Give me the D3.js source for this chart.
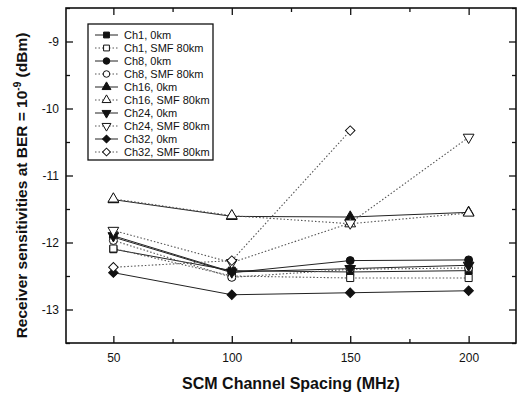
<!DOCTYPE html>
<html>
<head>
<meta charset="utf-8">
<script src="https://cdn.jsdelivr.net/npm/d3@7"></script>
<style>
  body { margin: 0; background: #fff; }
  text { font-family: Arial, "Liberation Sans", sans-serif; fill: #111; }
</style>
</head>
<body>
<div class="article"></div>
<script>
// chart values
var spacing = [50, 100, 150, 200];
var seriesNames = ["Ch1, 0km", "Ch1, SMF 80km", "Ch8, 0km", "Ch8, SMF 80km", "Ch16, 0km",
  "Ch16, SMF 80km", "Ch24, 0km", "Ch24, SMF 80km", "Ch32, 0km", "Ch32, SMF 80km"];
var ch1_0 = [-12.10, -12.42, -12.44, -12.42];
var ch1_smf = [-12.09, -12.50, -12.53, -12.53];
var ch8_0 = [-11.92, -12.45, -12.27, -12.26];
var ch8_smf = [-11.97, -12.52, -12.40, -12.38];
var ch16_0 = [-11.36, -11.61, -11.62, -11.55];
var ch16_smf = [-11.35, -11.60, -11.72, -11.56];
var ch24_0 = [-11.90, -12.44, -12.39, -12.34];
var ch24_smf = [-11.82, -12.30, -11.71, -10.43];
var ch32_0 = [-12.45, -12.78, -12.75, -12.72];
var ch32_smf = [-12.37, -12.27, -10.33];
var xTicks = [50, 100, 150, 200];
var yTicks = [-13, -12, -11, -10, -9];

var allValues = [ch1_0, ch1_smf, ch8_0, ch8_smf, ch16_0, ch16_smf, ch24_0, ch24_smf, ch32_0, ch32_smf];
var shapes = ["square", "square", "circle", "circle", "tri", "tri", "tridown", "tridown", "diamond", "diamond"];

//setting svg dimension
var svgWidth = 522;
var svgHeight = 395;

var margin = { top: 8, right: 6, bottom: 52, left: 66 };
var chartWidth = svgWidth - margin.left - margin.right;
var chartHeight = svgHeight - margin.top - margin.bottom;

var svg = d3.select(".article")
  .append("svg")
  .attr("width", svgWidth)
  .attr("height", svgHeight);

var chartGroup = svg.append("g")
  .attr("transform", `translate(${margin.left}, ${margin.top})`);

var xScale = d3.scaleLinear().domain([30, 220]).range([0, chartWidth]);
var yScale = d3.scaleLinear().domain([-13.5, -8.5]).range([chartHeight, 0]);

//minor ticks
var xMinor = [75, 125, 175];
var yMinor = [-13.5, -12.5, -11.5, -10.5, -9.5, -8.5];

function drawAxis(axis, transform, labels) {
  var g = chartGroup.append("g")
    .attr("transform", transform)
    .call(axis);
  g.select(".domain").remove();
  g.selectAll("line").attr("stroke", "#111").attr("stroke-width", 1.3);
  if (!labels) g.selectAll("text").remove();
  return g;
}

//ticks pointing inward on all four sides
var bottomG = drawAxis(d3.axisBottom(xScale).tickValues(xTicks).tickSizeInner(-7).tickPadding(10).tickFormat(d3.format("d")),
  `translate(0, ${chartHeight})`, true);
drawAxis(d3.axisBottom(xScale).tickValues(xMinor).tickSizeInner(-4), `translate(0, ${chartHeight})`, false);
drawAxis(d3.axisTop(xScale).tickValues(xTicks).tickSizeInner(-7), "translate(0,0)", false);
drawAxis(d3.axisTop(xScale).tickValues(xMinor).tickSizeInner(-4), "translate(0,0)", false);

var leftG = drawAxis(d3.axisLeft(yScale).tickValues(yTicks).tickSizeInner(-7).tickPadding(7).tickFormat(d => d),
  "translate(0,0)", true);
drawAxis(d3.axisLeft(yScale).tickValues(yMinor).tickSizeInner(-4), "translate(0,0)", false);
drawAxis(d3.axisRight(yScale).tickValues(yTicks).tickSizeInner(-7), `translate(${chartWidth},0)`, false);
drawAxis(d3.axisRight(yScale).tickValues(yMinor).tickSizeInner(-4), `translate(${chartWidth},0)`, false);

bottomG.selectAll("text").style("font-size", "12px");
leftG.selectAll("text").style("font-size", "12px").text(d => "-" + Math.abs(d));

//frame
chartGroup.append("rect")
  .attr("width", chartWidth)
  .attr("height", chartHeight)
  .attr("fill", "none")
  .attr("stroke", "#111")
  .attr("stroke-width", 1.6);

//symbol path helper
function symbolPath(shape, size) {
  if (shape === "square") return d3.symbol(d3.symbolSquare, size)();
  if (shape === "circle") return d3.symbol(d3.symbolCircle, size)();
  if (shape === "diamond") return d3.symbol(d3.symbolSquare, size * 0.9)();
  return d3.symbol(d3.symbolTriangle, size)();
}
function symbolRotate(shape) {
  if (shape === "tridown") return " rotate(180)";
  if (shape === "diamond") return " rotate(45)";
  return "";
}

var line = d3.line()
  .x((d, i) => xScale(spacing[i]))
  .y(d => yScale(d));

//lines first
allValues.forEach(function(vals, s) {
  var smf = s % 2 === 1;
  chartGroup.append("path")
    .datum(vals)
    .attr("d", line)
    .attr("fill", "none")
    .attr("stroke", smf ? "#555" : "#222")
    .attr("stroke-width", smf ? 1.1 : 1)
    .attr("stroke-dasharray", smf ? "1.5,2" : null);
});

//markers
allValues.forEach(function(vals, s) {
  var smf = s % 2 === 1;
  chartGroup.append("g").selectAll("path")
    .data(vals)
    .enter()
    .append("path")
    .attr("d", symbolPath(shapes[s], 50))
    .attr("transform", (d, i) => `translate(${xScale(spacing[i])}, ${yScale(d)})` + symbolRotate(shapes[s]))
    .attr("fill", smf ? "#fff" : "#111")
    .attr("stroke", "#111")
    .attr("stroke-width", 1);
});

//legend
var legend = svg.append("g").attr("transform", "translate(88, 24)");
legend.append("rect")
  .attr("width", 125)
  .attr("height", 136)
  .attr("fill", "#fff")
  .attr("stroke", "#111")
  .attr("stroke-width", 1.3);

seriesNames.forEach(function(name, s) {
  var smf = s % 2 === 1;
  var yy = 11 + s * 13;
  legend.append("line")
    .attr("x1", 7).attr("x2", 30)
    .attr("y1", yy).attr("y2", yy)
    .attr("stroke", smf ? "#555" : "#222")
    .attr("stroke-width", 1)
    .attr("stroke-dasharray", smf ? "1.5,2" : null);
  legend.append("path")
    .attr("d", symbolPath(shapes[s], 34))
    .attr("transform", `translate(18.5, ${yy})` + symbolRotate(shapes[s]))
    .attr("fill", smf ? "#fff" : "#111")
    .attr("stroke", "#111")
    .attr("stroke-width", 1);
  legend.append("text")
    .attr("x", 36)
    .attr("y", yy + 4)
    .style("font-size", "11px")
    .text(name);
});

//axis titles
svg.append("text")
  .attr("x", margin.left + xScale(125))
  .attr("y", 389)
  .attr("text-anchor", "middle")
  .style("font-size", "16px")
  .style("font-weight", "bold")
  .text("SCM Channel Spacing (MHz)");

var yTitle = svg.append("text")
  .attr("transform", `translate(27, ${margin.top + chartHeight / 2 + 10}) rotate(-90)`)
  .attr("text-anchor", "middle")
  .style("font-size", "15.5px")
  .style("font-weight", "bold");
yTitle.append("tspan").text("Receiver sensitivities at BER = 10");
yTitle.append("tspan").attr("dy", -6).style("font-size", "10px").text("-9");
yTitle.append("tspan").attr("dy", 6).text(" (dBm)");
</script>
</body>
</html>
